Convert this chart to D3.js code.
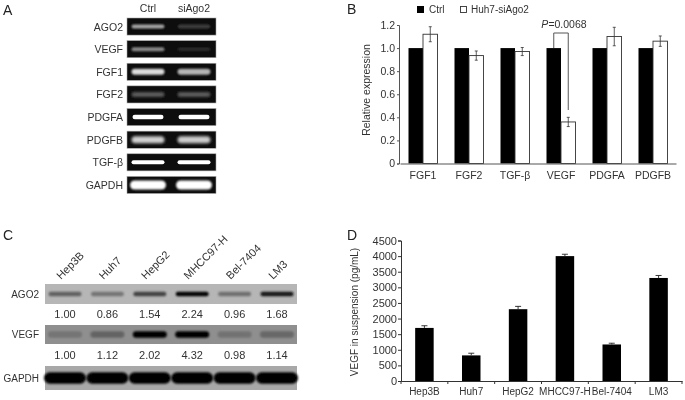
<!DOCTYPE html>
<html><head><meta charset="utf-8">
<script src="https://cdn.jsdelivr.net/npm/d3@7"></script>
<style>html,body{margin:0;padding:0;background:#fff}svg{display:block}text{font-family:"Liberation Sans",Arial,sans-serif;fill:#333}</style>
</head><body><svg id="c" width="685" height="400"></svg>
<script>
// Panel A
const genesA=["AGO2","VEGF","FGF1","FGF2","PDGFA","PDGFB","TGF-β","GAPDH"];
const lanesA=["Ctrl","siAgo2"];
const ctrlBandA=[0.62,0.5,0.85,0.3,1,0.8,1,1];
const siBandA=[0.17,0.07,0.68,0.3,1,0.78,1,1];
// Panel B
const genesB=["FGF1","FGF2","TGF-β","VEGF","PDGFA","PDGFB"];
const ctrlB=[1,1,1,1,1,1];
const siB=[1.12,0.935,0.97,0.36,1.1,1.06];
const errB=[0.065,0.04,0.035,0.04,0.08,0.045];
const ticksB=[0,0.2,0.4,0.6,0.8,1.0,1.2];
// Panel C
const cells=["Hep3B","Huh7","HepG2","MHCC97-H","Bel-7404","LM3"];
const ago2Ratio=["1.00","0.86","1.54","2.24","0.96","1.68"];
const vegfRatio=["1.00","1.12","2.02","4.32","0.98","1.14"];
const ago2Band=[0.32,0.18,0.55,1,0.22,0.9];
const vegfBand=[0.18,0.3,1,1,0.2,0.28];
const gapdhBand=[1,1,1,1,1,1];
// Panel D
const vegfD=[1700,820,2300,4000,1170,3300];
const errD=[70,70,90,60,40,80];
const ticksD=[0,500,1000,1500,2000,2500,3000,3500,4000,4500];

const svg=d3.select("#c");
const defs=svg.append("defs");
[["soft",0.35],["b0",0.6],["b1",1.1],["b2",1.8],["b3",2.4]].forEach(([id,s])=>{
  defs.append("filter").attr("id",id).attr("x","-20%").attr("y","-120%").attr("width","140%").attr("height","340%")
    .append("feGaussianBlur").attr("stdDeviation",s);
});
const root=svg.append("g").attr("filter","url(#soft)");
const FS=10.5;
function letter(t,x,y){root.append("text").attr("x",x).attr("y",y).attr("font-size",14).style("fill","#222").text(t);}
letter("A",3,15);letter("B",347,14);letter("C",3,240);letter("D",347,240);

/* ---------- A ---------- */
const xA=d3.scalePoint().domain(lanesA).range([148,194]);
const yA=d3.scaleBand().domain(genesA).range([18,193.5]).paddingInner(0.245).paddingOuter(0);
const grey=d3.scaleLinear().domain([0,1]).range(["#1a1a1a","#ffffff"]);
const thickA={AGO2:4,VEGF:4,FGF1:6,FGF2:5,PDGFA:4.5,PDGFB:7,"TGF-β":4,GAPDH:9};
const blurA={AGO2:"b1",VEGF:"b1",FGF1:"b1",FGF2:"b2",PDGFA:"b0",PDGFB:"b2","TGF-β":"b0",GAPDH:"b1"};
const widA={PDGFA:31,"TGF-β":33,GAPDH:36};
const gA=root.append("g");
const rowA=gA.selectAll("g").data(genesA).join("g").attr("transform",d=>`translate(0,${yA(d)})`);
rowA.append("rect").attr("x",127).attr("width",89).attr("height",yA.bandwidth()).attr("fill","#080808").attr("stroke","#aaa").attr("stroke-width",0.6);
rowA.append("text").attr("x",123).attr("y",yA.bandwidth()/2+4).attr("text-anchor","end").attr("font-size",FS).text(d=>d);
rowA.each(function(g,i){
  const r=d3.select(this),bw=yA.bandwidth();
  lanesA.forEach((l,j)=>{
    const v=(j?siBandA:ctrlBandA)[i],w=widA[g]||33,t=thickA[g];
    r.append("rect").attr("x",xA(l)-w/2).attr("y",bw/2-t/2).attr("width",w).attr("height",t).attr("rx",t/2)
     .attr("fill",grey(v)).attr("filter",`url(#${blurA[g]})`);
  });
});
gA.selectAll(".lane").data(lanesA).join("text").attr("x",d=>xA(d)).attr("y",12).attr("text-anchor","middle").attr("font-size",FS).text(d=>d);

/* ---------- B ---------- */
const x0B=d3.scaleBand().domain(genesB).range([400,676]);
const yB=d3.scaleLinear().domain([0,1.2]).range([163.5,25]);
const barW=14.5;
const gB=root.append("g");
gB.selectAll(".c").data(genesB).join("rect").attr("x",d=>x0B(d)+x0B.bandwidth()/2-barW)
  .attr("y",(d,i)=>yB(ctrlB[i])).attr("width",barW).attr("height",(d,i)=>yB(0)-yB(ctrlB[i])).attr("fill","#000");
gB.selectAll(".s").data(genesB).join("rect").attr("x",d=>x0B(d)+x0B.bandwidth()/2)
  .attr("y",(d,i)=>yB(siB[i])).attr("width",barW).attr("height",(d,i)=>yB(0)-yB(siB[i])).attr("fill","#fff").attr("stroke","#333").attr("stroke-width",0.9);
genesB.forEach((g,i)=>{
  const cx=x0B(g)+x0B.bandwidth()/2+barW/2,hi=yB(siB[i]+errB[i]),lo=yB(siB[i]-errB[i]);
  gB.append("path").attr("d",`M${cx-1.5},${hi}H${cx+1.5}M${cx},${hi}V${lo}M${cx-1.5},${lo}H${cx+1.5}`).attr("stroke","#333").attr("fill","none").attr("stroke-width",0.8);
});
const axYB=gB.append("g").attr("transform","translate(399,0)").call(d3.axisLeft(yB).tickValues(ticksB).tickFormat(d=>d===0?"0":d3.format(".1f")(d)).tickSize(2).tickPadding(2));
const axXB=gB.append("g").attr("transform","translate(0,163.5)").call(d3.axisBottom(x0B).tickSize(0).tickPadding(8));
[axYB,axXB].forEach(a=>{a.selectAll("text").attr("font-size",FS).style("font-family",'"Liberation Sans"');a.selectAll("path,line").attr("stroke","#555");a.attr("font-family",null);});
gB.append("text").attr("transform","translate(370,90) rotate(-90)").attr("text-anchor","middle").attr("font-size",FS).text("Relative expression");
gB.append("rect").attr("x",417).attr("y",6).attr("width",7).attr("height",7).attr("fill","#000");
gB.append("text").attr("x",429).attr("y",13).attr("font-size",FS-0.5).text("Ctrl");
gB.append("rect").attr("x",460.5).attr("y",6.5).attr("width",6).attr("height",6).attr("fill","#fff").attr("stroke","#333").attr("stroke-width",0.9);
gB.append("text").attr("x",471).attr("y",13).attr("font-size",FS-0.5).text("Huh7-siAgo2");
const vx=x0B("VEGF")+x0B.bandwidth()/2;
gB.append("path").attr("d",`M${vx-barW/2},${yB(1)}V33H${vx+barW/2}V110`).attr("fill","none").attr("stroke","#444").attr("stroke-width",0.9);
const pT=gB.append("text").attr("x",vx+3).attr("y",28).attr("text-anchor","middle").attr("font-size",FS);
pT.append("tspan").attr("font-style","italic").text("P");pT.append("tspan").text("=0.0068");

/* ---------- C ---------- */
const xC=d3.scalePoint().domain(cells).range([65,277]);
const gC=root.append("g");
const darkC=d3.scaleLinear().domain([0,1]).range(["#8d8d8d","#050505"]);
const rowsC=[
 {name:"AGO2",y:284,h:20,bg:"#b6b6b6",vals:ago2Band,t:4.5,b:"b1",w:33},
 {name:"VEGF",y:325,h:19,bg:"#8f8f8f",vals:vegfBand,t:6.5,b:"b1",w:34},
 {name:"GAPDH",y:366,h:24,bg:"#a8a8a8",vals:gapdhBand,t:11.5,b:"b1",w:42}
];
rowsC.forEach(r=>{
  gC.append("rect").attr("x",45).attr("y",r.y).attr("width",252).attr("height",r.h).attr("fill",r.bg);
  gC.selectAll(null).data(cells).join("rect").attr("x",d=>xC(d)-r.w/2).attr("y",r.y+r.h/2-r.t/2).attr("width",r.w).attr("height",r.t).attr("rx",r.t/2)
    .attr("fill",(d,i)=>darkC(r.vals[i])).attr("filter",`url(#${r.b})`);
  gC.append("text").attr("x",39).attr("y",r.y+r.h/2+3.5).attr("text-anchor","end").attr("font-size",FS-0.5).text(r.name);
});
[[ago2Ratio,318],[vegfRatio,359]].forEach(([arr,y])=>{
  gC.selectAll(null).data(cells).join("text").attr("x",d=>xC(d)).attr("y",y).attr("text-anchor","middle").attr("font-size",FS+0.5).text((d,i)=>arr[i]);
});
gC.selectAll(null).data(cells).join("text").attr("transform",d=>`translate(${xC(d)-4},280) rotate(-45)`).attr("font-size",FS+0.5).text(d=>d);

/* ---------- D ---------- */
const xD=d3.scaleBand().domain(cells).range([401,682]);
const yD=d3.scaleLinear().domain([0,4500]).range([381,240.5]);
const wD=18.5;
const gD=root.append("g");
gD.selectAll(".b").data(cells).join("rect").attr("x",d=>xD(d)+xD.bandwidth()/2-wD/2)
  .attr("y",(d,i)=>yD(vegfD[i])).attr("width",wD).attr("height",(d,i)=>yD(0)-yD(vegfD[i])).attr("fill","#000");
cells.forEach((c,i)=>{
  const cx=xD(c)+xD.bandwidth()/2,hi=yD(vegfD[i]+errD[i]);
  gD.append("path").attr("d",`M${cx-3},${hi}H${cx+3}M${cx},${hi}V${yD(vegfD[i])}`).attr("stroke","#222").attr("fill","none").attr("stroke-width",0.9);
});
const axYD=gD.append("g").attr("transform","translate(401,0)").call(d3.axisLeft(yD).tickValues(ticksD).tickFormat(d3.format("d")).tickSize(3).tickPadding(1));
const axXD=gD.append("g").attr("transform","translate(0,381)").call(d3.axisBottom(xD).tickSize(0).tickPadding(7));
[axYD,axXD].forEach(a=>{a.selectAll("text").style("font-family",'"Liberation Sans"');a.selectAll("path,line").attr("stroke","#333");a.attr("font-family",null);});
axYD.selectAll("text").attr("font-size",FS+0.5);
axXD.selectAll("text").attr("font-size",10);
axXD.selectAll(null).data(xD.domain().concat(["end"])).join("line")
  .attr("x1",(d,i)=>401+i*xD.bandwidth()).attr("x2",(d,i)=>401+i*xD.bandwidth()).attr("y1",0).attr("y2",3).attr("stroke","#333");
gD.append("text").attr("transform","translate(358,312) rotate(-90)").attr("text-anchor","middle").attr("font-size",FS-0.5).text("VEGF in suspension (pg/mL)");
</script></body></html>
